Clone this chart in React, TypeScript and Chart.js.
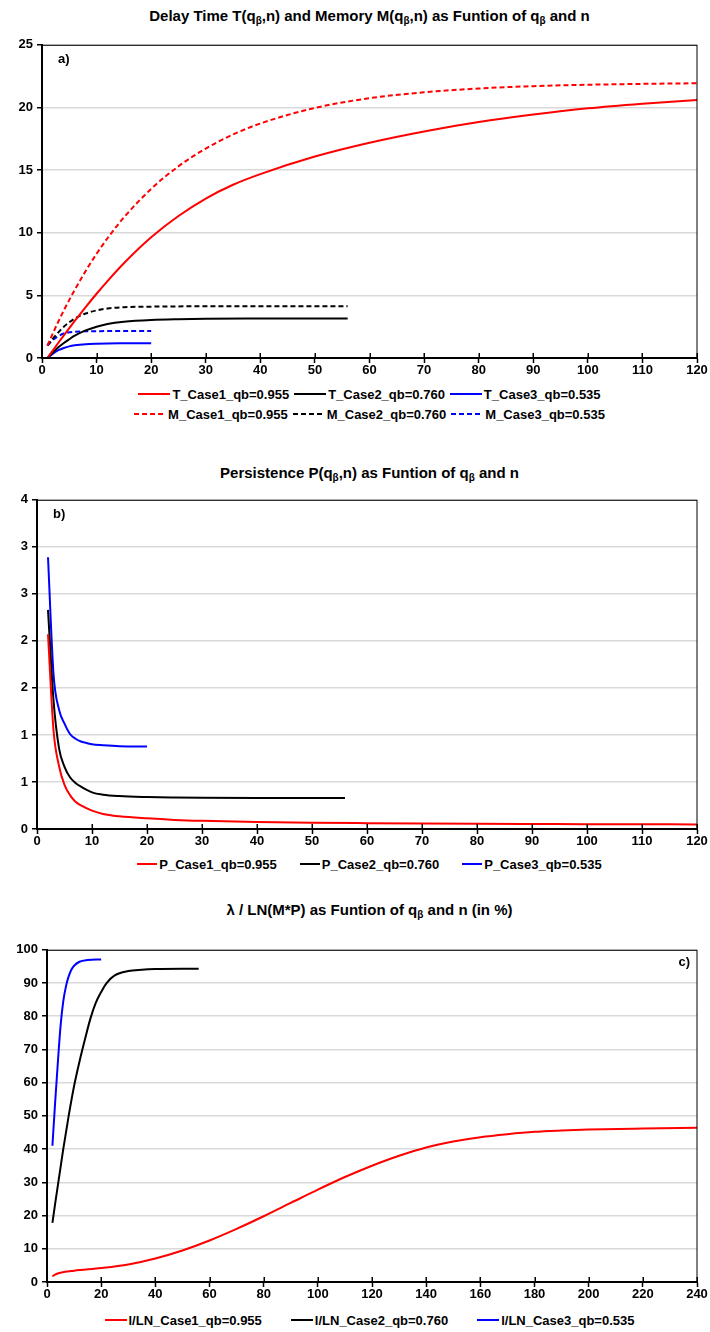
import React, { useEffect, useRef } from "react";
import { Chart, registerables } from "chart.js";
Chart.register(...registerables);

const FONT = "'Liberation Sans Narrow', 'Arial Narrow', 'Liberation Sans', Arial, sans-serif";

// ---------- Panel a: Delay Time T and Memory M ----------
const nA1 = [1, 2, 3, 4, 5, 6, 8, 10, 12, 15, 20, 25, 30, 35, 40, 50, 60, 70, 80, 90, 100, 110, 120];
const T1 = [0, 0.61, 1.22, 1.81, 2.39, 2.96, 4.07, 5.13, 6.14, 7.56, 9.63, 11.33, 12.73, 13.83, 14.68, 16.08, 17.18, 18.08, 18.83, 19.43, 19.93, 20.3, 20.6];
const M1 = [1.0, 1.98, 2.91, 3.8, 4.64, 5.44, 6.95, 8.32, 9.56, 11.22, 13.5, 15.3, 16.72, 17.84, 18.72, 19.96, 20.74, 21.21, 21.51, 21.7, 21.81, 21.88, 21.93];
const nA2 = [1, 2, 3, 4, 5, 6, 8, 10, 12, 15, 20, 25, 30, 40, 50, 56];
const T2 = [0, 0.45, 0.85, 1.2, 1.5, 1.78, 2.2, 2.5, 2.72, 2.9, 3.04, 3.1, 3.13, 3.15, 3.16, 3.16];
const M2 = [1.0, 1.55, 2.05, 2.5, 2.85, 3.15, 3.55, 3.8, 3.95, 4.05, 4.1, 4.12, 4.13, 4.14, 4.14, 4.14];
const nA3 = [1, 2, 3, 4, 5, 6, 8, 10, 12, 15, 20];
const T3 = [0, 0.35, 0.62, 0.8, 0.93, 1.01, 1.1, 1.14, 1.16, 1.17, 1.18];
const M3 = [1.0, 1.45, 1.75, 1.95, 2.05, 2.1, 2.13, 2.14, 2.15, 2.15, 2.15];

// ---------- Panel b: Persistence P ----------
const nB1 = [2, 3, 4, 5, 6, 7, 8, 10, 12, 15, 20, 25, 30, 40, 50, 60, 70, 80, 90, 100, 110, 120];
const P1 = [2.07, 1.05, 0.67, 0.47, 0.36, 0.29, 0.25, 0.195, 0.16, 0.135, 0.113, 0.097, 0.087, 0.075, 0.067, 0.062, 0.058, 0.055, 0.053, 0.051, 0.05, 0.049];
const nB2 = [2, 3, 4, 5, 6, 7, 8, 10, 12, 15, 20, 25, 30, 40, 50, 56];
const P2 = [2.33, 1.37, 0.86, 0.66, 0.55, 0.49, 0.45, 0.39, 0.365, 0.35, 0.34, 0.335, 0.332, 0.33, 0.33, 0.33];
const nB3 = [2, 3, 4, 5, 6, 7, 8, 9, 10, 12, 15, 20];
const P3 = [2.89, 1.65, 1.27, 1.12, 1.01, 0.96, 0.93, 0.915, 0.9, 0.89, 0.88, 0.877];

// ---------- Panel c: lambda / LN(M*P) in % ----------
const nC1 = [2, 3, 4, 5, 10, 20, 30, 40, 50, 60, 70, 80, 90, 100, 110, 120, 130, 140, 150, 160, 170, 180, 190, 200, 220, 240];
const L1 = [1.7, 2.2, 2.55, 2.8, 3.4, 4.2, 5.3, 7.1, 9.5, 12.5, 16.0, 19.8, 23.8, 27.8, 31.6, 35.0, 38.0, 40.5, 42.3, 43.6, 44.5, 45.2, 45.6, 45.9, 46.2, 46.4];
const nC2 = [2, 3, 4, 5, 6, 8, 10, 12, 14, 16, 18, 20, 22, 25, 30, 35, 40, 50, 56];
const L2 = [17.8, 23.5, 29, 34.5, 40, 50, 59, 66.4, 73, 79.2, 84, 87.3, 90, 92.3, 93.6, 94, 94.2, 94.3, 94.3];
const nC3 = [2, 3, 4, 5, 6, 7, 8, 9, 10, 12, 15, 20];
const L3 = [41, 54, 66, 77, 84.5, 89, 92, 94, 95.2, 96.4, 96.9, 97.1];

const RED = "#ff0000";
const BLACK = "#000000";
const BLUE = "#0000ff";

type Series = { label: string; n: number[]; v: number[]; color: string; dash?: number[] };

const seriesA: Series[] = [
  { label: "T_Case1_qb=0.955", n: nA1, v: T1, color: RED },
  { label: "T_Case2_qb=0.760", n: nA2, v: T2, color: BLACK },
  { label: "T_Case3_qb=0.535", n: nA3, v: T3, color: BLUE },
  { label: "M_Case1_qb=0.955", n: nA1, v: M1, color: RED, dash: [5, 3] },
  { label: "M_Case2_qb=0.760", n: nA2, v: M2, color: BLACK, dash: [5, 3] },
  { label: "M_Case3_qb=0.535", n: nA3, v: M3, color: BLUE, dash: [5, 3] },
];
const seriesB: Series[] = [
  { label: "P_Case1_qb=0.955", n: nB1, v: P1, color: RED },
  { label: "P_Case2_qb=0.760", n: nB2, v: P2, color: BLACK },
  { label: "P_Case3_qb=0.535", n: nB3, v: P3, color: BLUE },
];
const seriesC: Series[] = [
  { label: "l/LN_Case1_qb=0.955", n: nC1, v: L1, color: RED },
  { label: "l/LN_Case2_qb=0.760", n: nC2, v: L2, color: BLACK },
  { label: "l/LN_Case3_qb=0.535", n: nC3, v: L3, color: BLUE },
];

const framePlugin = {
  id: "frame",
  afterDraw(chart: any, _args: any, opts: any) {
    const { ctx } = chart;
    const { left, right, top, bottom } = chart.chartArea;
    ctx.save();
    ctx.strokeStyle = "#000";
    ctx.lineWidth = 1;
    ctx.strokeRect(left, top + 0.5, right - left, bottom - top);
    ctx.lineWidth = 2;
    ctx.beginPath();
    ctx.moveTo(left, top);
    ctx.lineTo(left, bottom);
    ctx.lineTo(right, bottom);
    ctx.stroke();
    const xs = chart.scales.x;
    ctx.lineWidth = 1.5;
    ctx.beginPath();
    xs.ticks.forEach((t: any) => {
      const px = Math.round(xs.getPixelForValue(t.value)) + 0.25;
      ctx.moveTo(px, bottom);
      ctx.lineTo(px, bottom - 5);
    });
    ctx.stroke();
    if (opts && opts.text) {
      ctx.fillStyle = "#000";
      ctx.font = `bold 13px ${FONT}`;
      ctx.textBaseline = "middle";
      if (opts.side === "right") {
        ctx.textAlign = "right";
        ctx.fillText(opts.text, right - 7, top + 13);
      } else {
        ctx.textAlign = "left";
        ctx.fillText(opts.text, left + 16, top + 15);
      }
    }
    ctx.restore();
  },
};

type PanelProps = {
  series: Series[];
  top: number;
  height: number;
  yWidth: number;
  xMax: number;
  xStep: number;
  yMax: number;
  yStep: number;
  yRound?: boolean;
  tag: string;
  tagSide?: string;
};

function Panel(p: PanelProps) {
  const ref = useRef<HTMLCanvasElement>(null);
  useEffect(() => {
    if (!ref.current) return;
    const chart = new Chart(ref.current, {
      type: "line",
      data: {
        datasets: p.series.map((s) => ({
          label: s.label,
          data: s.n.map((x, i) => ({ x, y: s.v[i] })),
          borderColor: s.color,
          backgroundColor: s.color,
          borderWidth: 2,
          borderDash: s.dash || [],
          pointRadius: 0,
          fill: false,
          cubicInterpolationMode: "monotone" as const,
        })),
      },
      options: {
        animation: false,
        responsive: false,
        maintainAspectRatio: false,
        layout: { padding: { top: 8, right: 13, left: 0, bottom: 0 } },
        plugins: {
          legend: { display: false },
          title: { display: false },
          tooltip: { enabled: false },
          frame: { text: p.tag, side: p.tagSide || "left" },
        } as any,
        scales: {
          x: {
            type: "linear",
            min: 0,
            max: p.xMax,
            ticks: {
              stepSize: p.xStep,
              color: "#000",
              font: { family: FONT, size: 13, weight: "bold" },
              padding: 0,
              maxRotation: 0,
              autoSkip: false,
            },
            grid: {
              display: true,
              drawOnChartArea: false,
              drawTicks: true,
              tickLength: 5,
              tickColor: "#000",
              tickWidth: 1.5,
            },
            border: { display: true, color: "#000", width: 2 },
            afterFit: (s: any) => {
              s.height = 22;
            },
          },
          y: {
            type: "linear",
            min: 0,
            max: p.yMax,
            ticks: {
              stepSize: p.yStep,
              color: "#000",
              font: { family: FONT, size: 13, weight: "bold" },
              padding: 4,
              callback: (v: any) => (p.yRound ? String(Math.round(Number(v))) : String(v)),
            },
            grid: {
              color: "#d9d9d9",
              lineWidth: 1.5,
              drawTicks: true,
              tickLength: 5,
              tickColor: "#000",
              tickWidth: 1.5,
            },
            border: { display: true, color: "#000", width: 2 },
            afterFit: (s: any) => {
              s.width = p.yWidth;
            },
          },
        },
      },
      plugins: [framePlugin],
    } as any);
    return () => chart.destroy();
  }, []);
  return (
    <canvas
      ref={ref}
      width={710}
      height={p.height}
      style={{ position: "absolute", left: 0, top: p.top, width: 710, height: p.height }}
    />
  );
}

function LegendLine({ color, dash, w }: { color: string; dash?: number[]; w: number }) {
  return (
    <svg width={w} height={6} style={{ display: "block", marginRight: 2 }}>
      <line
        x1={0}
        y1={3}
        x2={w}
        y2={3}
        stroke={color}
        strokeWidth={2}
        strokeDasharray={dash ? dash.join(",") : undefined}
      />
    </svg>
  );
}

function Legend({
  rows,
  top,
  lineW,
  gap,
}: {
  rows: Series[][];
  top: number;
  lineW: number;
  gap: number;
}) {
  return (
    <div style={{ position: "absolute", left: 42, width: 655, top }}>
      {rows.map((row, ri) => (
        <div
          key={ri}
          style={{ display: "flex", justifyContent: "center", alignItems: "center", height: 20 }}
        >
          {row.map((s, i) => (
            <div
              key={i}
              style={{ display: "flex", alignItems: "center", marginLeft: i === 0 ? 0 : gap }}
            >
              <LegendLine color={s.color} dash={s.dash} w={lineW} />
              <span style={{ font: `bold 13px ${FONT}`, color: "#000", whiteSpace: "nowrap" }}>
                {s.label}
              </span>
            </div>
          ))}
        </div>
      ))}
    </div>
  );
}

function Title({ top, children }: { top: number; children: React.ReactNode }) {
  return (
    <div
      style={{
        position: "absolute",
        left: 42,
        width: 655,
        top,
        height: 20,
        lineHeight: "20px",
        textAlign: "center",
        font: `bold 15px ${FONT}`,
        color: "#000",
        whiteSpace: "nowrap",
      }}
    >
      {children}
    </div>
  );
}

const sub: React.CSSProperties = { fontSize: 10, verticalAlign: "-3px", lineHeight: 0 };

export default function App() {
  return (
    <div style={{ position: "absolute", left: 0, top: 0, width: 710, height: 1332, background: "#fff" }}>
      <Title top={7}>
        Delay Time T(q<span style={sub}>β</span>,n) and Memory M(q<span style={sub}>β</span>,n) as Funtion of q
        <span style={sub}>β</span> and n
      </Title>
      <Panel series={seriesA} top={33} height={347} yWidth={42} xMax={120} xStep={10} yMax={25} yStep={5} tag="a)" />
      <Legend rows={[seriesA.slice(0, 3), seriesA.slice(3)]} top={384} lineW={32} gap={5} />

      <Title top={464}>
        Persistence P(q<span style={sub}>β</span>,n) as Funtion of q<span style={sub}>β</span> and n
      </Title>
      <Panel
        series={seriesB}
        top={488}
        height={363}
        yWidth={37}
        xMax={120}
        xStep={10}
        yMax={3.5}
        yStep={0.5}
        yRound
        tag="b)"
      />
      <Legend rows={[seriesB]} top={854} lineW={20} gap={23} />

      <Title top={901}>
        λ / LN(M*P) as Funtion of q<span style={sub}>β</span> and n (in %)
      </Title>
      <Panel
        series={seriesC}
        top={938}
        height={366}
        yWidth={47}
        xMax={240}
        xStep={20}
        yMax={100}
        yStep={10}
        tag="c)"
        tagSide="right"
      />
      <Legend rows={[seriesC]} top={1310} lineW={22} gap={29} />
    </div>
  );
}
